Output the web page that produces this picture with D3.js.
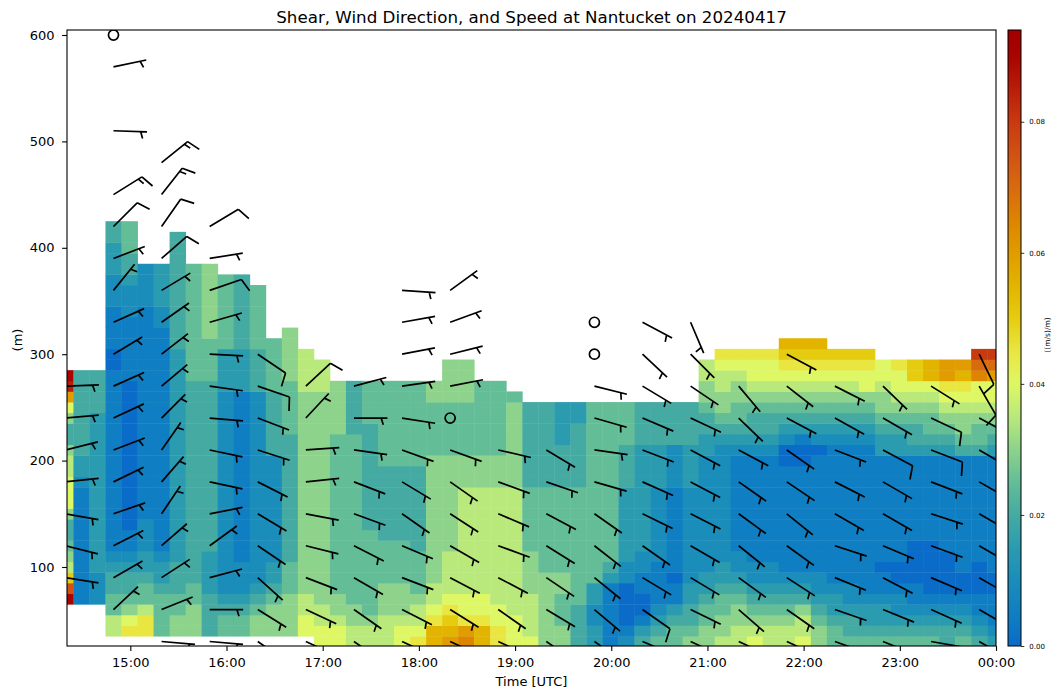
<!DOCTYPE html>
<html><head><meta charset="utf-8">
<script src="https://cdn.jsdelivr.net/npm/d3@7"></script>
<style>
body{margin:0;background:#fff;}
svg{display:block;font-family:"DejaVu Sans",sans-serif;}
</style></head><body>
<svg id="chart" width="1062" height="699"></svg>
<script>
// ================= DATA =================
const chartTitle = "Shear, Wind Direction, and Speed at Nantucket on 20240417";
const xLabel = "Time [UTC]";
const yLabel = "(m)";
const cbLabel = "((m/s)/m)";

// x axis: minutes after 00:00 UTC on 20240417
const xDomain = [860.5, 1440];
const xTickMinutes = [900, 960, 1020, 1080, 1140, 1200, 1260, 1320, 1380, 1440];
const xTickLabels = ["15:00","16:00","17:00","18:00","19:00","20:00","21:00","22:00","23:00","00:00"];
// y axis: height (m)
const yDomain = [25.75, 604.7];
const yTicks = [100, 200, 300, 400, 500, 600];
// colour bar
const cbDomain = [0, 0.094];
const cbTicks = [0, 0.02, 0.04, 0.06, 0.08];
const cmapStops  = [0,0.005,0.01,0.015,0.02,0.025,0.03,0.035,0.04,0.045,0.05,0.055,0.06,0.065,0.07,0.075,0.08,0.085,0.09,0.094];
const cmapColors = ["#0a6cc8","#0f7ec2","#1a8dba","#2b9bb0","#45aaa2","#63bd97","#8dd38b","#b9e97b","#def765","#e9e642","#e6cc10","#e2b400","#e09c00","#dd8400","#d86a10","#d05214","#c83a10","#b81e08","#a80400","#a00000"];

// shear grid: one column every 10 minutes, rows every 10 m from the column bottom
const shearStartMin = 859.5;
const shearStepMin = 10;
const shearStepM = 10;
const shearBottom = [70,70,70,40,40,40,40,40,40,40,40,40,40,40,40,40,
  30,30,30,30,30,30,30,30,30,30,30,30,30,30,30,30,30,30,30,30,30,30,30,30,
  30,30,30,30,30,30,30,30,30,30,30,30,30,30,30,30,30,30,30];
// run-length coded shear level per column (bottom -> top); level code (base 36) * 0.005 (m/s)/m
const shearLevels = [
 "i,f,a,7,6,5,4:2,6,8:3,7:2,6,4:2,6,8,c,h,i",
 "1:11,2,3:2,4:8",
 "2:3,3:15,4:4",
 "7:2,5:2,4:2,3,2,1:17,0:2,1:4,2:3,3:3,4:2",
 "9,8,6,5,4:2,3,2,1:2,0:14,1:6,2:3,3,4:2,5:3",
 "9:2,7,5:2,4,3:2,2:3,1:20,2:4",
 "5:4,4,3:2,2,1:21,2:2,3:4",
 "6:2,5:2,4:3,3:20,4:11",
 "6:3,5:2,4:19,5:11",
 "4:4,3:4,4:16,5:4,6:7",
 "5:2,4,3,2:19,3:4,5:7",
 "5:2,4,3,2:3,1:16,3:4,4:7",
 "6:2,5,4,3,2:18,4:4,5:6",
 "6:3,5,4,3:2,2:10,4:6,5:5",
 "6:4,5:3,4:12,5:5,6:5",
 "8:2,7:2,6:19,7:4",
 "8:2,7:2,6:20,7:3",
 "8:2,7,6:2,5:15,6:5",
 "7:2,6:2,5:16,4:5",
 "7:2,6,5:8,4:10,5:4",
 "7:3,6:3,5:4,4:7,5:8",
 "8:2,7,6:3,5:4,4:7,5:8",
 "9,8,7:2,6,5:4,4:8,5:8",
 "b:2,9,8,7:2,6:12,5:5,6:2",
 "c,b,a,9,8,7:4,6:9,5:5,6:4",
 "d,c,9,8:2,7:10,6:3,5:5,6:4",
 "b:2,9,8:2,7:10,6:3,5:7",
 "9:2,8:2,7:11,6:3,5:7",
 "8:3,7:12,6:8,5",
 "8,7:4,6:4,5:6,4:8",
 "6:7,5:8,4:8",
 "6:2,5:3,6:2,5:8,4:4,3:4",
 "4:4,5:11,4:6,3:2",
 "3:2,2:2,3:2,5:17",
 "1:6,3,4,5:15",
 "2,1,0:4,2:2,3:7,4:4,5:4",
 "4,3,1,0:2,1:2,2:2,3:10,4:4",
 "5,4,3,2,1:4,2:7,3:4,4:4",
 "5:2,4,3,1:2,0,1:8,2:4,4:4",
 "6,5,4:2,3:2,2:9,3:4,4:4",
 "6:2,5:2,4,3:2,2:11,3:2,4:2,5,6:2,7:2",
 "7,6:2,5:2,4,3:2,2:11,3,4,5,6:2,7:2,8,9",
 "7:2,6:2,5,4,3,2:2,1:9,2,3,4,5:2,6:2,7,8,9",
 "8,7,6,5,4,3,2:2,1:10,2,3,4:2,5,6,7,8:2,9",
 "7:2,6,5,4,3,2:2,1:10,2,3,4:2,5,6,7,8:2,9",
 "7:2,6,5,4,3,2,1:10,0:2,2,3,4,5,6,7,8,9,a,b",
 "8,7:2,6,4,3,2,1:10,0:2,1,3,4,5,6,7,8,9,a,b",
 "6:2,5,4,3,2:2,1:11,0,2,3,4,5,6,7,8,9,a,b",
 "5:2,4,3:2,2,1:13,2,3,4,5,6,7,8,9,a",
 "5,4:2,3,2:2,1:13,2,3,4,5,6,7,8,9,a",
 "5,4,3:2,2,1:14,2,3,4,5,6,8:2,9,a",
 "5,4,3:2,2,1:2,0,1:10,3:2,4,5,6:2,7,8:2",
 "5,4,3,2:2,1,0:2,1:10,3:2,4,5,6,7,8:2,9",
 "5,4,3,2,1:2,0:4,1:8,3,4:2,5,6,7,8,a:2",
 "5,4,3,2,1,0:5,1:8,3,4,5:2,6,7,8,b:2",
 "4:2,3,2,1,0:4,1:9,3,4,5,6,7,8,9,c:2",
 "5,4,3,2,1,0:2,1:11,4,5,6:2,7,8,9,b,c",
 "4,3,2,1:2,0:3,1:10,4,5:2,6,7,8:2,d,e,g",
 "3,2,1:3,0:2,1:11,3,4,5,6,7,8:2,c,e,g"
];

// wind barbs: one column every 30 minutes, heights every 30 m
const barbStartMin = 859.5;
const barbStepMin = 30;
const barbHeights = [30,60,90,120,150,180,210,240,270,300,330,360,390,420,450,480,510,540,570,600];
// direction the wind blows from (deg), per column, per height (null = no barb)
const barbDir = [
 [null,null,99,104,100,84,76,85,88],
 [null,47,60,63,71,64,69,65,66,59,66,39,69,45,58,null,92,null,78,0],
 [95,68,57,49,34,41,35,45,50,52,55,59,49,35,38,51],
 [95,90,75,54,79,102,102,95,98,93,74,71,81,59],
 [125,122,132,124,121,117,108,111,109,124],
 [115,115,111,104,101,84,86,43,47],
 [125,125,120,117,110,111,98,90,75],
 [115,117,111,113,125,121,110,99,82,79,80,94],
 [115,122,118,120,123,125,110,0,79,76,70,54],
 [115,125,118,110,113,110,103],
 [125,121,124,122,118,109,121],
 [125,130,129,128,125,106,98,106,104,0,0],
 [113,125,121,125,116,114,111,113,121,133,118],
 [115,116,121,120,117,118,118,115,124,135,157],
 [115,131,126,129,126,125,118,134,140],
 [115,125,123,126,129,124,125,118,128,118],
 [110,109,112,108,120,117,111,119,117],
 [112,112,118,113,120,120,118,120,134],
 [100,114,113,110,108,111,111,115,122],
 [120,120,120,120,120,120,120,118,150,154]
];
// wind speed (kt), same layout
const barbSpd = [
 [null,null,5,5,5,5,5,5,5],
 [null,5,5,5,5,5,5,5,5,5,5,5,5,10,15,null,5,null,5,0],
 [5,5,5,5,5,5,5,5,5,5,5,5,10,10,15,15],
 [5,5,5,5,5,5,5,5,5,5,5,10,5,10],
 [5,5,5,5,5,5,5,5,10,10],
 [5,5,5,5,5,5,5,5,10],
 [5,5,5,5,5,5,5,5,5],
 [5,5,5,5,5,5,5,5,5,5,5,5],
 [5,5,5,5,5,5,5,0,5,5,5,5],
 [5,5,5,5,5,5,5],
 [5,5,5,5,5,5,5],
 [5,5,5,5,5,5,5,5,5,0,0],
 [5,10,5,5,5,5,5,5,5,5,5],
 [5,5,5,5,5,5,5,5,5,5,5],
 [5,5,5,5,5,5,5,5,5],
 [5,5,5,5,5,5,5,5,5,5],
 [5,5,5,5,5,5,5,5,5],
 [5,5,5,5,5,5,10,5,5],
 [5,5,5,5,5,5,10,10,5],
 [5,5,5,5,5,5,5,5,10,10]
];

// ================= DRAWING =================
const svg = d3.select("#chart");
const P = {l: 67, r: 996, t: 30, b: 646};
const FONT = "DejaVu Sans";

const x = d3.scaleLinear().domain(xDomain).range([P.l, P.r]);
const y = d3.scaleLinear().domain(yDomain).range([P.b, P.t]);
const color = d3.scaleLinear().domain(cmapStops).range(cmapColors)
  .interpolate(d3.interpolateRgb).clamp(true);

function decode(s) {
  const out = [];
  s.split(",").forEach(tok => {
    const [c, n] = tok.split(":");
    const k = n ? +n : 1;
    for (let i = 0; i < k; i++) out.push(c);
  });
  return out;
}
const levelValue = c => parseInt(c, 36) * 0.005;

const defs = svg.append("defs");
defs.append("clipPath").attr("id", "plotclip").append("rect")
  .attr("x", P.l).attr("y", P.t).attr("width", P.r - P.l).attr("height", P.b - P.t);

// heatmap cells
const cells = [];
shearLevels.forEach((s, j) => {
  const t = shearStartMin + j * shearStepMin;
  decode(s).forEach((c, i) => {
    cells.push({t, h: shearBottom[j] + i * shearStepM, v: levelValue(c)});
  });
});
const gCells = svg.append("g").attr("clip-path", "url(#plotclip)");
gCells.selectAll("rect").data(cells).join("rect")
  .attr("x", d => x(d.t - shearStepMin / 2))
  .attr("width", d => x(d.t + shearStepMin / 2) - x(d.t - shearStepMin / 2) + 0.4)
  .attr("y", d => y(d.h + shearStepM / 2))
  .attr("height", d => y(d.h - shearStepM / 2) - y(d.h + shearStepM / 2) + 0.4)
  .attr("fill", d => color(d.v));

// wind barbs (matplotlib-style geometry)
const barbs = [];
barbDir.forEach((col, k) => {
  col.forEach((dir, i) => {
    if (dir === null || barbSpd[k][i] === null) return;
    barbs.push({t: barbStartMin + k * barbStepMin, h: barbHeights[i], dir, spd: barbSpd[k][i]});
  });
});
const L = 33.5;
function barbPath(px, py, dir, spd) {
  const r = dir * Math.PI / 180;
  const sx = Math.sin(r), sy = -Math.cos(r);
  const qx = -sy, qy = sx;
  const pt = (o, q) => [px + sx * o + qx * q, py + sy * o + qy * q];
  const f = a => a[0].toFixed(2) + "," + a[1].toFixed(2);
  let d = "M" + f(pt(0, 0)) + "L" + f(pt(L, 0));
  const sp = 0.125 * L, fh = 0.4 * L, fw = 0.25 * L;
  let n10 = Math.floor(spd / 10);
  const half = (spd % 10) >= 5;
  let off = L;
  for (let i = 0; i < n10; i++) {
    d += "M" + f(pt(off, 0)) + "L" + f(pt(off + fw / 2, fh));
    off -= sp;
  }
  if (half) {
    if (n10 === 0) off -= 1.5 * sp;
    d += "M" + f(pt(off, 0)) + "L" + f(pt(off + fw / 4, fh / 2));
  }
  return d;
}
const gBarbs = svg.append("g").attr("clip-path", "url(#plotclip)");
gBarbs.selectAll("path").data(barbs.filter(b => b.spd > 0)).join("path")
  .attr("d", b => barbPath(x(b.t), y(b.h), b.dir, b.spd))
  .attr("fill", "none").attr("stroke", "#000").attr("stroke-width", 1.7)
  .attr("stroke-linecap", "butt");
gBarbs.selectAll("circle").data(barbs.filter(b => b.spd === 0)).join("circle")
  .attr("cx", b => x(b.t)).attr("cy", b => y(b.h)).attr("r", 0.15 * L)
  .attr("fill", "none").attr("stroke", "#000").attr("stroke-width", 1.7);

// axes
const xAxis = d3.axisBottom(x).tickValues(xTickMinutes)
  .tickFormat((d, i) => xTickLabels[i]).tickSize(4.9).tickPadding(6.6);
const gx = svg.append("g").attr("transform", `translate(0,${P.b})`).call(xAxis);
const yAxis = d3.axisLeft(y).tickValues(yTicks).tickFormat(d3.format("d"))
  .tickSize(4.9).tickPadding(7.5);
const gy = svg.append("g").attr("transform", `translate(${P.l},0)`).call(yAxis);
[gx, gy].forEach(g => {
  g.select(".domain").remove();
  g.selectAll("line").attr("stroke", "#000").attr("stroke-width", 1.1);
  g.selectAll("text").attr("font-family", FONT).attr("font-size", 13).attr("fill", "#000");
});
svg.append("rect").attr("x", P.l).attr("y", P.t).attr("width", P.r - P.l).attr("height", P.b - P.t)
  .attr("fill", "none").attr("stroke", "#000").attr("stroke-width", 1.1);

// labels
svg.append("text").attr("x", (P.l + P.r) / 2).attr("y", 22.5).attr("text-anchor", "middle")
  .attr("font-family", FONT).attr("font-size", 16.7).text(chartTitle);
svg.append("text").attr("x", (P.l + P.r) / 2).attr("y", 686).attr("text-anchor", "middle")
  .attr("font-family", FONT).attr("font-size", 13).text(xLabel);
svg.append("text").attr("transform", "translate(21.5,340) rotate(-90)").attr("text-anchor", "middle")
  .attr("font-family", FONT).attr("font-size", 13).text(yLabel);

// colour bar
const CB = {l: 1008, r: 1021, t: 30, b: 646};
const cy = d3.scaleLinear().domain(cbDomain).range([CB.b, CB.t]);
const grad = defs.append("linearGradient").attr("id", "cbgrad")
  .attr("x1", 0).attr("y1", 1).attr("x2", 0).attr("y2", 0);
d3.range(0, 1.0001, 0.01).forEach(f => {
  grad.append("stop").attr("offset", f).attr("stop-color", color(cbDomain[0] + f * (cbDomain[1] - cbDomain[0])));
});
svg.append("rect").attr("x", CB.l).attr("y", CB.t).attr("width", CB.r - CB.l).attr("height", CB.b - CB.t)
  .attr("fill", "url(#cbgrad)").attr("stroke", "#000").attr("stroke-width", 1);
const cbAxis = d3.axisRight(cy).tickValues(cbTicks).tickFormat(d3.format(".2f")).tickSize(3.3).tickPadding(5);
const gcb = svg.append("g").attr("transform", `translate(${CB.r},0)`).call(cbAxis);
gcb.select(".domain").remove();
gcb.selectAll("line").attr("stroke", "#000").attr("stroke-width", 0.8);
gcb.selectAll("text").attr("font-family", FONT).attr("font-size", 7).attr("fill", "#000");
svg.append("text").attr("transform", "translate(1050,335) rotate(-90)").attr("text-anchor", "middle")
  .attr("font-family", FONT).attr("font-size", 7.5).text(cbLabel);
</script>
</body></html>
